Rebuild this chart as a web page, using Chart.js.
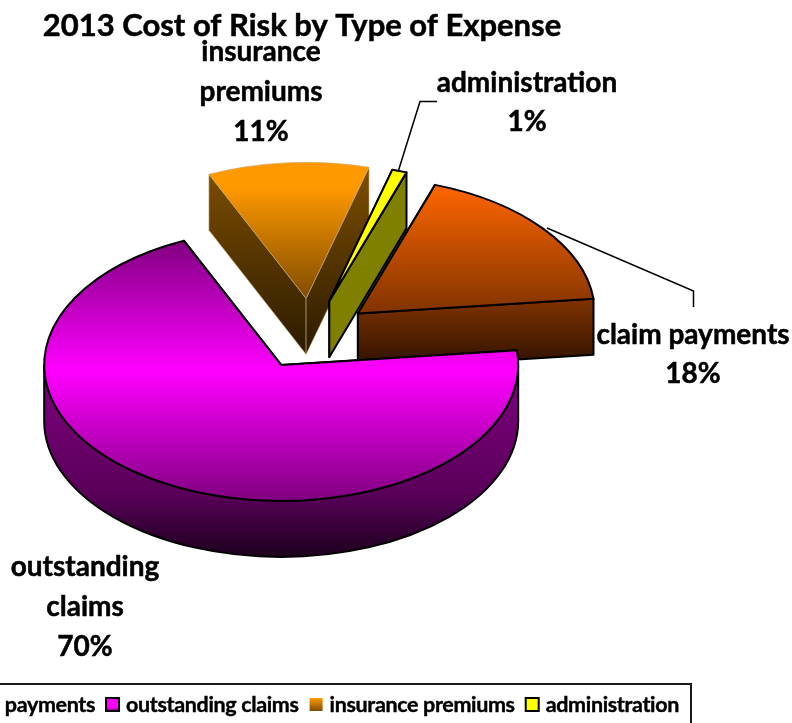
<!DOCTYPE html>
<html>
<head>
<meta charset="utf-8">
<title>2013 Cost of Risk by Type of Expense</title>
<style>html,body{margin:0;padding:0;background:#fff;overflow:hidden}canvas{display:block}</style>
<script src="https://cdn.jsdelivr.net/npm/chart.js@4"></script>
</head>
<body>
<canvas id="chart" width="792" height="723"></canvas>
<script>
// Cost of risk split, in percent
const chartTitle = '2013 Cost of Risk by Type of Expense';
const categories = ['claim payments', 'outstanding claims', 'insurance premiums', 'administration'];
const shares = [18, 70, 11, 1];

// Look of the tilted, exploded pie
const FONT = 'Lato, "Open Sans", sans-serif';
const SQUASH = 0.574;
const DEPTH = 56;
const explode = [60, 60, 64, 62];
const drawOrder = [2, 3, 0, 1];
const faceColors = [
  [[0, '#ff6600'], [1, '#803300']],
  [[0, '#800080'], [0.5, '#ff00ff'], [1, '#800080']],
  [[0, '#ff9900'], [0.18, '#ff9900'], [1, '#7f4c00']],
  [[0, '#ffff00'], [1, '#ffff00']]
];
const wallColors = [
  [[0, '#803300'], [0.62, '#803300'], [1, '#2a1000']],
  [[0, '#800080'], [0.39, '#800080'], [0.8, '#5a005a'], [1, '#1c001c']],
  [[0, '#805000'], [1, '#2a1a00']],
  [[0, '#808000'], [1, '#808000']]
];
const swatchColors = [
  [[0, '#ff6600'], [1, '#803300']],
  [[0, '#ff00ff'], [0.7, '#ff00ff'], [1, '#800080']],
  [[0, '#ff9900'], [1, '#7f4c00']],
  [[0, '#ffff00'], [1, '#ffff00']]
];
const outlines = [
  { color: '#000', width: 2 },
  { color: '#000', width: 2 },
  { color: '#c9a877', width: 0.6 },
  { color: '#000', width: 2 }
];

function ramp(ctx, y0, y1, stops) {
  const g = ctx.createLinearGradient(0, y0, 0, y1);
  stops.forEach(([at, c]) => g.addColorStop(at, c));
  return g;
}

// Path of the ellipse rim between two angles
function rimPath(ctx, cx, cy, r, a0, a1) {
  ctx.ellipse(cx, cy, r, r * SQUASH, 0, a0, a1);
}

function drawSlice(ctx, arc, i) {
  const { x, y, startAngle: a0, endAngle: a1, outerRadius: r } = arc.getProps(['x', 'y', 'startAngle', 'endAngle', 'outerRadius'], true);
  const mid = (a0 + a1) / 2;
  const cx = x + Math.cos(mid) * explode[i];
  const cy = y + Math.sin(mid) * explode[i] * SQUASH;
  const ry = r * SQUASH;
  const px = a => cx + Math.cos(a) * r;
  const py = a => cy + Math.sin(a) * ry;
  const ys = [cy, py(a0), py(a1)];
  for (let k = -2; k <= 4; k++) {
    const a = k * Math.PI / 2;
    if (a > a0 && a < a1) ys.push(py(a));
  }
  const top = Math.min(...ys);
  const bottom = Math.max(...ys);
  const line = outlines[i];
  const wallFill = ramp(ctx, Math.min(...ys), bottom + DEPTH, wallColors[i]);
  ctx.lineJoin = 'round';
  ctx.strokeStyle = line.color;
  ctx.lineWidth = line.width;

  // straight cut faces, leading edge first
  [a0, a1].forEach(a => {
    ctx.beginPath();
    ctx.moveTo(cx, cy);
    ctx.lineTo(px(a), py(a));
    ctx.lineTo(px(a), py(a) + DEPTH);
    ctx.lineTo(cx, cy + DEPTH);
    ctx.closePath();
    ctx.fillStyle = wallFill;
    ctx.fill();
    ctx.stroke();
  });

  // curved rim wall on the part that faces the viewer
  const from = Math.max(a0, 0);
  const to = Math.min(a1, Math.PI);
  if (to > from) {
    ctx.beginPath();
    rimPath(ctx, cx, cy, r, from, to);
    ctx.lineTo(px(to), py(to) + DEPTH);
    ctx.ellipse(cx, cy + DEPTH, r, ry, 0, to, from, true);
    ctx.closePath();
    ctx.fillStyle = wallFill;
    ctx.fill();
    ctx.stroke();
  }

  // top face
  ctx.beginPath();
  ctx.moveTo(cx, cy);
  rimPath(ctx, cx, cy, r, a0, a1);
  ctx.closePath();
  ctx.fillStyle = ramp(ctx, top, bottom, faceColors[i]);
  ctx.fill();
  ctx.stroke();
}

// Bold text with a hairline stroke to thicken the stems
function heavyText(ctx, text, x, y) {
  ctx.fillText(text, x, y);
  ctx.strokeText(text, x, y);
}

function drawCentered(ctx, lines, x, y, step) {
  lines.forEach((t, k) => heavyText(ctx, t, x, y + k * step));
}

function wrapLabel(i) {
  const words = categories[i].split(' ');
  return i === 0 ? [categories[i], shares[i] + '%'] : [...words, shares[i] + '%'];
}

function drawLegend(ctx) {
  ctx.fillStyle = '#fff';
  ctx.strokeStyle = '#1a1a1a';
  ctx.lineWidth = 2;
  ctx.beginPath();
  ctx.rect(-4, 684, 695, 60);
  ctx.fill();
  ctx.stroke();

  ctx.font = 'bold 21.5px ' + FONT;
  ctx.textAlign = 'left';
  ctx.textBaseline = 'middle';
  ctx.letterSpacing = '-0.35px';
  let right = 679;
  for (let i = categories.length - 1; i >= 0; i--) {
    const w = ctx.measureText(categories[i]).width;
    const left = right - w;
    ctx.fillStyle = '#000';
    ctx.strokeStyle = '#000';
    ctx.lineWidth = 0.4;
    heavyText(ctx, categories[i], left, 705);
    const bx = left - 20;
    ctx.fillStyle = ramp(ctx, 698, 711, swatchColors[i]);
    ctx.fillRect(bx, 698, 13, 13);
    if (i !== 2) {
      ctx.lineWidth = 2;
      ctx.strokeRect(bx, 698, 13, 13);
    }
    right = bx - 11;
  }
  ctx.letterSpacing = '0px';
}

// Paints the pie as a solid from the angles and radius the doughnut controller computed
const tiltedPie = {
  id: 'tiltedPie',
  beforeDatasetsDraw(chart) {
    const ctx = chart.ctx;
    const arcs = chart.getDatasetMeta(0).data;
    ctx.save();
    drawOrder.forEach(i => drawSlice(ctx, arcs[i], i));
    ctx.restore();
    return false;
  },
  afterDraw(chart) {
    const ctx = chart.ctx;
    ctx.save();

    // leader lines
    ctx.strokeStyle = '#000';
    ctx.lineWidth = 1.5;
    ctx.beginPath();
    ctx.moveTo(437, 101.5);
    ctx.lineTo(420, 101.5);
    ctx.lineTo(398, 172);
    ctx.moveTo(547, 228);
    ctx.lineTo(693.5, 291);
    ctx.lineTo(693.5, 307);
    ctx.stroke();

    ctx.fillStyle = '#000';
    ctx.textAlign = 'center';
    ctx.textBaseline = 'middle';
    ctx.lineWidth = 0.5;
    ctx.font = 'bold 31px ' + FONT;
    heavyText(ctx, chartTitle, 302, 26);
    ctx.font = 'bold 28px ' + FONT;
    drawCentered(ctx, wrapLabel(2), 261, 52, 40);
    drawCentered(ctx, [categories[3], shares[3] + '%'], 527, 83, 39);
    drawCentered(ctx, wrapLabel(0), 693, 335, 39);
    drawCentered(ctx, wrapLabel(1), 85, 567, 40);

    drawLegend(ctx);
    ctx.restore();
  }
};

new Chart(document.getElementById('chart'), {
  type: 'pie',
  data: { labels: categories, datasets: [{ data: shares, borderWidth: 0 }] },
  options: {
    responsive: false,
    animation: false,
    rotation: 19,
    radius: 237,
    layout: { padding: { left: 0, top: 0, right: 170, bottom: 53 } },
    plugins: { legend: { display: false }, title: { display: false }, tooltip: { enabled: false } }
  },
  plugins: [tiltedPie]
});
</script>
</body>
</html>
